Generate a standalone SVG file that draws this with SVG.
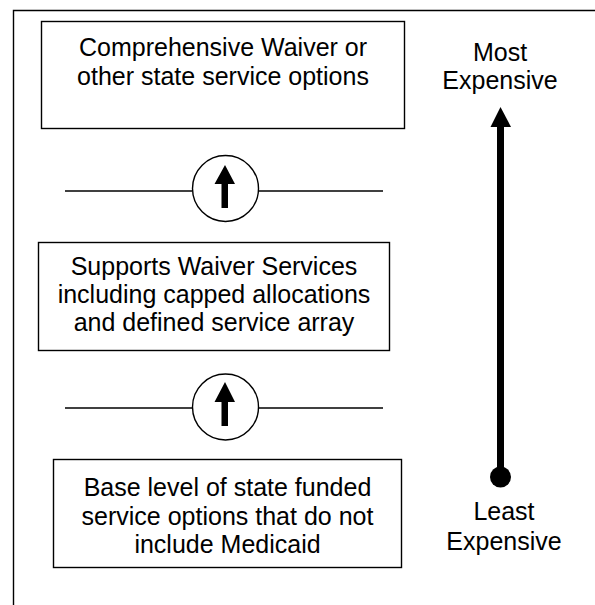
<svg xmlns="http://www.w3.org/2000/svg" width="595" height="605" viewBox="0 0 595 605">
<style>
.box{fill:#fff;stroke:#000;stroke-width:1.4}
.ln{fill:none;stroke:#000;stroke-width:1.4}
.t{font-family:"Liberation Sans",Arial,sans-serif;font-size:25px;fill:#000;text-anchor:middle}
</style>
<rect width="595" height="605" fill="#fff"/>
<path class="ln" d="M13.5,605 V10.5 H595" stroke-width="1.6"/>
<g id="box-comprehensive">
<rect class="box" x="41.5" y="21.5" width="363" height="107"/>
<text class="t" x="223" y="56">Comprehensive Waiver or</text>
<text class="t" x="223" y="85">other state service options</text>
</g>
<g id="box-supports">
<rect class="box" x="38.5" y="242.5" width="351" height="108"/>
<text class="t" x="214" y="275">Supports Waiver Services</text>
<text class="t" x="214" y="303">including capped allocations</text>
<text class="t" x="214" y="331">and defined service array</text>
</g>
<g id="box-base">
<rect class="box" x="53.5" y="459.5" width="348" height="108"/>
<text class="t" x="227.5" y="496">Base level of state funded</text>
<text class="t" x="227.5" y="525">service options that do not</text>
<text class="t" x="227.5" y="553">include Medicaid</text>
</g>
<g id="step-1">
<line class="ln" x1="65" y1="191" x2="192" y2="191"/>
<line class="ln" x1="259" y1="191" x2="383" y2="191"/>
<circle class="box" cx="225.5" cy="188.5" r="33"/>
<polygon points="225,165 214.5,184 221.5,184 221.5,208 228,208 228,184 235,184" fill="#000"/>
</g>
<g id="step-2">
<line class="ln" x1="65" y1="408" x2="192" y2="408"/>
<line class="ln" x1="259" y1="408" x2="383" y2="408"/>
<circle class="box" cx="225.5" cy="407" r="33"/>
<polygon points="225,382 214.5,402 221.5,402 221.5,426 228,426 228,402 235,402" fill="#000"/>
</g>
<g id="scale">
<text class="t" x="500" y="61">Most</text>
<text class="t" x="500" y="89">Expensive</text>
<rect x="497" y="125" width="7" height="352" fill="#000"/>
<polygon points="500.5,107 490.5,127 511,127" fill="#000"/>
<circle cx="500.5" cy="477" r="10.5" fill="#000"/>
<text class="t" x="504" y="520">Least</text>
<text class="t" x="504" y="550">Expensive</text>
</g>
</svg>
